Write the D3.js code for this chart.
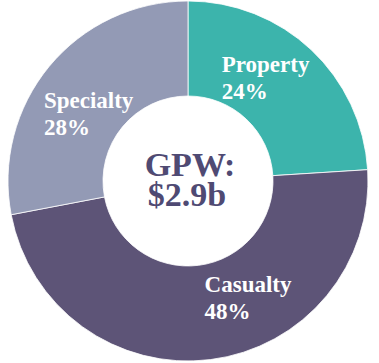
<!DOCTYPE html>
<html>
<head>
<meta charset="utf-8">
<script src="https://cdn.jsdelivr.net/npm/d3@7"></script>
<style>
  body { margin: 0; background: #fff; }
  svg { display: block; }
  text { font-family: "Liberation Serif", "Times New Roman", serif; font-weight: bold; }
</style>
</head>
<body>
<svg id="chart" width="379" height="363"></svg>
<script>
// data
var segments = ["Property", "Casualty", "Specialty"];
var shares = [24, 48, 28];
var colors = ["#3cb4ac", "#5d5477", "#939ab5"];
var centerLines = ["GPW:", "$2.9b"];

var width = 379, height = 363;
var cx = 188, cy = 181;
var outerR = 180, innerR = 85;

// label nudges from the arc centroid (left edge, first baseline)
var labelShift = [[-57, -12], [0, -20], [-42, 11]];

var svg = d3.select("#chart");
var g = svg.append("g").attr("transform", "translate(" + cx + "," + cy + ")");

var pie = d3.pie().sort(null).value(function(d) { return d.value; });
var arc = d3.arc().innerRadius(innerR).outerRadius(outerR);

var rows = segments.map(function(s, i) { return {name: s, value: shares[i], color: colors[i]}; });
var arcs = pie(rows);

g.selectAll("path.slice")
    .data(arcs)
    .enter().append("path")
    .attr("class", "slice")
    .attr("d", arc)
    .attr("fill", function(d) { return d.data.color; })
    .attr("stroke", "#fff")
    .attr("stroke-width", 0.8);

var labels = g.selectAll("text.label")
    .data(arcs)
    .enter().append("text")
    .attr("class", "label")
    .attr("fill", "#fff")
    .style("font-size", "23px")
    .attr("transform", function(d, i) {
        var c = arc.centroid(d);
        return "translate(" + (c[0] + labelShift[i][0]) + "," + (c[1] + labelShift[i][1]) + ")";
    });
labels.append("tspan").attr("x", 0).attr("y", 0).text(function(d) { return d.data.name; });
labels.append("tspan").attr("x", 0).attr("y", 27).text(function(d) { return d.data.value + "%"; });

// centre caption, one text per line
g.selectAll("text.mid")
    .data(centerLines)
    .enter().append("text")
    .attr("class", "mid")
    .attr("text-anchor", "middle")
    .attr("fill", "#4f4a73")
    .style("font-size", "34px")
    .attr("x", function(d, i) { return i == 0 ? 2 : -1; })
    .attr("y", function(d, i) { return -5 + i * 30; })
    .text(function(d) { return d; });
</script>
</body>
</html>
